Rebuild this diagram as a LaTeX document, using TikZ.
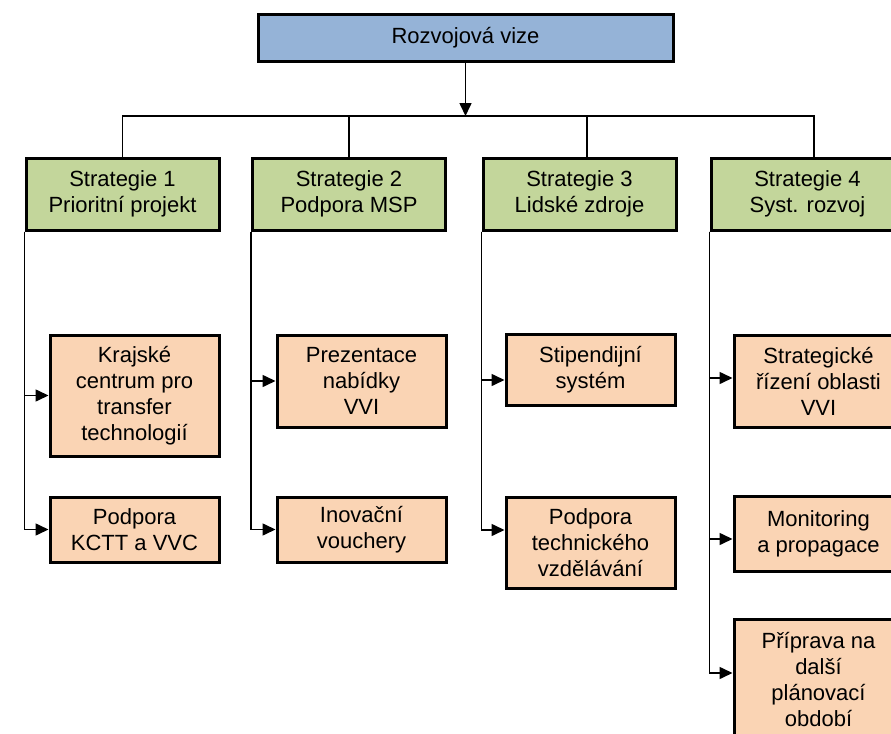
\documentclass[tikz,border=0pt]{standalone}
\usepackage{fontspec}
\setmainfont{Liberation Sans}
\usetikzlibrary{arrows.meta}
\definecolor{vizeblue}{HTML}{95B3D7}
\definecolor{stratgreen}{HTML}{C3D69B}
\definecolor{measorange}{HTML}{FAD4B4}
\begin{document}
\begin{tikzpicture}[x=0.5pt, y=-0.5pt,
    box/.style={draw, line width=1.5pt, align=center, inner sep=2pt, font=\fontsize{11}{13}\selectfont},
    vision/.style={box, fill=vizeblue, minimum width=207.5pt, minimum height=23.5pt},
    strategy/.style={box, fill=stratgreen, minimum width=96.5pt, minimum height=36pt},
    measure/.style={box, fill=measorange, minimum width=84.5pt},
    link/.style={line width=0.8pt},
    arrow/.style={link, -{Triangle[length=6.5pt, width=6pt]}}]

            % Frame
            \useasboundingbox (0, 0) rectangle (891, 734);
            \clip (0, 0) rectangle (891, 734);

            % Vision
            \node[vision] (vize) at (465.5, 37.5) {Rozvojová vize};

            % Strategies
            \node[strategy] (s1) at (122.5, 194) {Strategie 1\\Prioritní projekt};
            \node[strategy] (s2) at (349, 194) {Strategie 2\\Podpora MSP};
            \node[strategy] (s3) at (579.5, 194) {Strategie 3\\Lidské zdroje};
            \node[strategy] (s4) at (807.5, 194) {Strategie 4\\Syst. rozvoj};

            % Measures
            \node[measure, minimum height=60.5pt] (l11) at (134.5, 395.5) {Krajské\\centrum pro\\transfer\\technologií};
            \node[measure, minimum height=32.5pt] (l12) at (134.5, 529.5) {Podpora\\KCTT a VVC};
            \node[measure, minimum height=46pt] (l21) at (361.5, 381) {Prezentace\\nabídky\\VVI};
            \node[measure, minimum height=32.5pt] (l22) at (361.5, 529.5) {Inovační\\vouchery};
            \node[measure, minimum height=35.5pt] (l31) at (590.5, 369.5) {Stipendijní\\systém};
            \node[measure, minimum height=45.5pt] (l32) at (590.5, 542.5) {Podpora\\technického\\vzdělávání};
            \node[measure, minimum height=46pt] (l41) at (818.5, 381) {Strategické\\řízení oblasti\\VVI};
            \node[measure, minimum height=37.5pt] (l42) at (818.5, 533.5) {Monitoring\\a propagace};
            \node[measure, minimum height=61pt] (l43) at (818.5, 680) {Příprava na\\další\\plánovací\\období};

            % Vision to strategies
            \coordinate (bus) at (465.5, 116);
            \draw[arrow] (vize.south) -- (bus);
            \draw[link] (s1.north) |- (bus);
            \draw[link] (bus) -| (s2.north);
            \draw[link] (bus) -| ([xshift=3.75pt]s3.north);
            \draw[link] (bus) -| ([xshift=3.25pt]s4.north);

            % Strategies to measures
            \draw[arrow] (s1.south west) |- (l11.west);
            \draw[arrow] (s1.south west) |- (l12.west);
            \draw[arrow] (s2.south west) |- (l21.west);
            \draw[arrow] (s2.south west) |- (l22.west);
            \draw[arrow] (s3.south west) |- ([yshift=-5.25pt]l31.west);
            \draw[arrow] (s3.south west) |- ([yshift=6.25pt]l32.west);
            \draw[arrow] (s4.south west) |- ([yshift=1.5pt]l41.west);
            \draw[arrow] (s4.south west) |- ([yshift=-2.75pt]l42.west);
            \draw[arrow] (s4.south west) |- ([yshift=3.5pt]l43.west);

        \end{tikzpicture}
\end{document}
